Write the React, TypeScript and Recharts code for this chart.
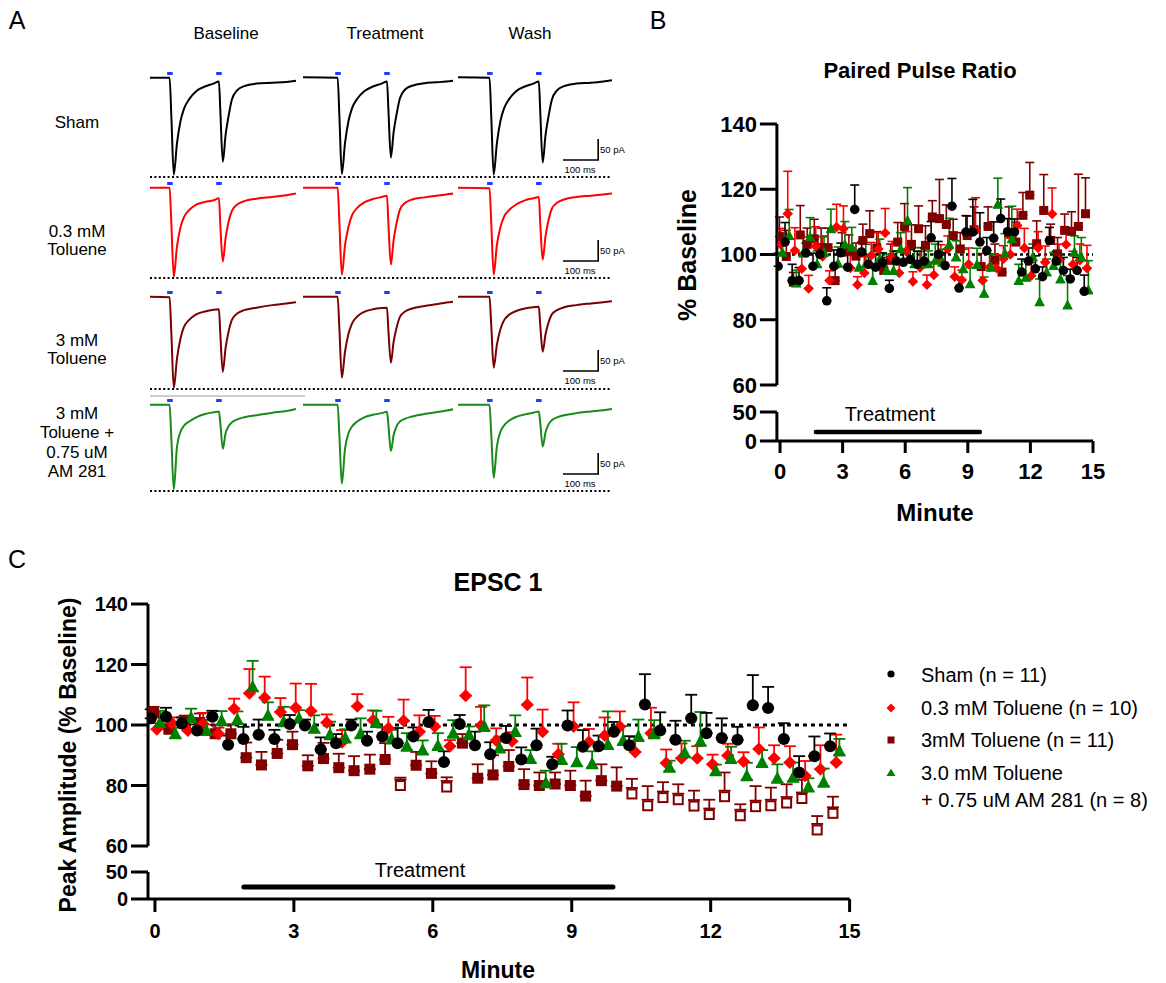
import React from 'react';
import { ScatterChart, Scatter, XAxis, YAxis, ErrorBar, ReferenceLine, LineChart, Line } from 'recharts';

// ---------------- DATA ----------------
// sampling times (min) of the 45 sweeps; each group was acquired with a small time offset
const MINUTES = [0, 0.33, 0.67, 1, 1.33, 1.67, 2, 2.33, 2.67, 3, 3.33, 3.67, 4, 4.33, 4.67, 5, 5.33, 5.67, 6, 6.33, 6.67, 7, 7.33, 7.67, 8, 8.33, 8.67, 9, 9.33, 9.67, 10, 10.33, 10.67, 11, 11.33, 11.67, 12, 12.33, 12.67, 13, 13.33, 13.67, 14, 14.33, 14.67];
const OFFSET_SHAM = -0.09;
const OFFSET_TOL03 = 0.04;
const OFFSET_TOL3 = -0.03;
const OFFSET_AM = 0.11;

// Panel C - EPSC 1 (% baseline) and SEM
const epscSham = [102.2, 102.7, 100.5, 98.2, 102.7, 93.5, 95.4, 96.8, 95.4, 100.3, 99.8, 91.9, 94, 99.8, 94.8, 96.2, 94, 96.2, 101, 87.8, 100.3, 93.3, 90.3, 95.7, 88.6, 93.3, 87, 99.8, 92.8, 93, 97.8, 93.3, 106.8, 98.2, 95.1, 102.2, 97.3, 95.7, 95.1, 106.5, 105.6, 95.4, 84.3, 89.7, 93];
const epscShamSem = [3, 3, 2, 2, 2, 3, 4, 5, 3, 3, 2, 4, 3, 2, 3, 3, 5, 3, 4, 3.5, 3, 4.5, 4, 4, 4, 5.5, 2.5, 5, 5.5, 3.5, 3.2, 3, 10, 6, 6.3, 7.8, 6.7, 6.5, 4.3, 10, 7, 5.2, 5.4, 6.5, 4.2];
const epscTol03 = [98.6, 100.5, 98.2, 100.3, 97.1, 105.4, 110.5, 109, 104.3, 105.7, 104.6, 100.8, 94.3, 106.2, 101.6, 98.9, 101.4, 97.8, 99.5, 93, 109.7, 99.8, 94.9, 94.6, 106.7, 97.8, 90.3, 99.5, 94.4, 96.5, 99.5, 91.1, 97.3, 87.4, 89, 89, 87, 89.9, 87.9, 92.1, 89, 87.6, 83.2, 85.4, 87.6];
const epscTol03Sem = [2, 2, 3, 3.7, 2, 3.3, 8, 7, 4.6, 8, 9, 2.7, 4, 4, 3.2, 3.8, 7, 5.4, 3.5, 2, 9.4, 6.2, 4, 3, 9, 7.3, 3.5, 8, 4.3, 6, 5, 4.9, 8.4, 4.5, 4.9, 4, 3.2, 3.9, 3.1, 7.1, 4.3, 5.4, 4.9, 7.9, 9.2];
const epscTol3 = [104, 98.6, 101.1, 100.8, 97.1, 97.1, 89.2, 86.8, 90.6, 93.5, 86.5, 88.9, 85.9, 84.9, 85.4, 88.6, 80, 86.7, 84, 79.5, 94, 82.4, 83.5, 86.3, 80.3, 80, 80.5, 80, 76.5, 81.6, 79.8, 77.2, 73.3, 76, 75.3, 73.2, 70.4, 76.3, 70, 73, 73.3, 74.2, 75.7, 65.3, 70.8];
const epscTol3Sem = [2, 3, 2, 3, 3, 3, 5, 4.3, 4.5, 4.3, 3.5, 5.2, 4.6, 4.8, 4.8, 5.4, 2.6, 4.4, 4, 3.2, 3, 4.6, 6.5, 5.4, 5.1, 4.3, 3.8, 4.9, 5.1, 5.4, 6.2, 5, 6.5, 5.1, 5.1, 5.1, 4.9, 8, 3.8, 6.8, 6, 6.2, 6.2, 4.6, 5.5];
const epscTol3OpenIdx = [16, 19, 31, 32, 33, 34, 35, 36, 37, 38, 39, 40, 41, 42, 43, 44];
const epscAm = [100.8, 97.1, 102.5, 98.2, 101.4, 101.8, 112.6, 103.2, 101.1, 102.2, 98.9, 96.8, 95.7, 97.1, 100.8, 95.4, 93, 91.7, 93.2, 97.3, 96.8, 99.5, 92.4, 97.8, 88.9, 80.9, 88.6, 87.8, 87.2, 93.5, 94.9, 96.2, 97.1, 86, 90.8, 94.6, 84.9, 88.9, 83.2, 87.6, 82.4, 82.7, 79.5, 81.1, 91.4];
const epscAmSem = [3.9, 2, 2.9, 3.5, 3.2, 2.7, 8.6, 4.3, 4.9, 2.7, 4.3, 4.3, 2.9, 5.1, 3.9, 3, 4.3, 3.2, 4.1, 4.3, 2.7, 7, 3.8, 5.4, 2.8, 4, 5.2, 4.9, 4.1, 11, 4.8, 5.6, 4.5, 2.2, 4, 9.7, 2, 3.9, 4.3, 4.1, 4.6, 4.9, 2.9, 4.5, 4];

// Panel B - paired pulse ratio (% baseline) and SEM
const pprSham = [96.4, 103.8, 92, 92, 100.5, 96.4, 100, 85.8, 96.4, 100.5, 96.1, 113.8, 100.8, 97, 96.1, 97.5, 89.6, 98, 97.6, 98.5, 97, 98, 105.1, 100, 96.6, 114.8, 89.7, 106.9, 106.9, 103.8, 101.2, 105, 111, 107, 106.9, 94.6, 98, 95.6, 93.2, 104.3, 98, 95.1, 92.5, 95.1, 88.7];
const pprShamSem = [4, 6, 5, 4, 3, 4, 3, 4, 5, 3, 5, 7.5, 3, 3, 4, 3, 2.5, 3, 4, 3, 4, 4, 5, 4, 4, 8.5, 3, 5, 10, 9, 4, 5, 6, 4, 4, 4, 4, 4, 3, 4, 3, 4, 3, 4, 5];
const pprTol03 = [103, 112.5, 101.2, 95.6, 89.6, 102.5, 99.4, 92, 108.4, 107.9, 95.9, 90.7, 94.3, 99.7, 101.7, 106.6, 99, 94.3, 101, 91.7, 96, 90.7, 93.7, 98, 101.7, 93.2, 92.2, 97, 107.4, 92, 96.1, 95.9, 98.7, 100, 108.9, 102, 93.5, 102, 97.6, 112.4, 98.2, 103.1, 97, 98.2, 95.8];
const pprTol03Sem = [5, 13, 7, 5, 4, 6, 6, 3, 7, 7, 5, 2.5, 5, 4, 5, 7.5, 5, 4, 6, 3, 5, 3, 4, 5, 4, 3, 3, 5, 10, 4, 4, 4, 4, 5, 5, 6, 4, 5, 5, 8, 5, 4, 4, 5, 7];
const pprTol3 = [105.5, 99.4, 91.5, 106, 103.1, 104.8, 102.1, 102.1, 92, 100.7, 101, 99.5, 104.3, 106.4, 102, 95.1, 98.2, 103.8, 108.6, 103.1, 107.9, 102.8, 111.5, 111, 109.2, 105.8, 101.7, 105.8, 107.6, 96.3, 108.6, 98.2, 94.6, 106.6, 103.8, 112, 118.2, 103.3, 113.5, 104.3, 100.2, 107.4, 107.1, 108.6, 112.5];
const pprTol3Sem = [6, 8, 3, 9, 5, 6, 6, 6, 4, 6, 5, 4, 5, 7, 5, 4, 5, 6, 7, 6, 7, 6, 5, 12, 6, 5, 5, 6, 7, 4, 6, 5, 5, 8, 6, 7, 10, 7, 11, 5, 5, 5, 6, 16, 11];
const pprAm = [100.7, 105.8, 91.2, 100.4, 105.3, 97.1, 100.7, 107.9, 97.3, 103.1, 102.3, 96.1, 97.1, 92, 98.7, 95.1, 95.1, 101.7, 110.5, 97.1, 97.1, 97.1, 98.2, 97.6, 103.1, 99.2, 95.6, 91, 96.9, 88.1, 96.1, 115.4, 100.4, 104.8, 92, 93, 99.2, 85.5, 94.6, 96.6, 92.5, 84.5, 100.7, 99.2, 89.1];
const pprAmSem = [4, 8, 4, 5, 6, 4, 5, 6, 5, 7, 6, 5, 6, 5, 6, 5, 6, 5, 10, 5, 5, 4, 5, 4, 8, 5, 6, 5, 5, 5, 4, 8, 6, 10, 5, 5, 4, 7, 4, 4, 6, 9, 5, 6, 9];

// Treatment period (min) and bar level (axis units) in each panel
const TREAT_B = [1.72, 9.58];
const TREAT_B_LEVEL = 15.5;
const TREAT_C = [1.92, 9.89];
const TREAT_C_LEVEL = 22;

const LEGEND_LABELS = ['Sham (n = 11)', '0.3 mM Toluene (n = 10)', '3mM Toluene (n = 11)', '3.0 mM Toluene', '+ 0.75 uM AM 281 (n = 8)'];

// Panel A - example EPSC traces (ms from sweep start, pA)
const T_BASELINE = [0, 56, 61, 68, 77, 87, 97, 112, 132, 157, 182, 197, 201, 208, 216, 224, 234, 249, 269, 304, 350, 390, 417];
const T_TREATMENT = [0, 99, 104, 111, 120, 130, 140, 155, 175, 200, 225, 240, 244, 251, 259, 267, 277, 292, 312, 347, 380, 410, 429];
const T_WASH = [0, 90, 95, 102, 111, 121, 131, 146, 166, 191, 216, 231, 235, 242, 250, 258, 268, 283, 303, 338, 380, 415, 440];
const STIM_BASELINE = [57, 197];
const STIM_TREATMENT = [100, 240];
const STIM_WASH = [91, 231];

const shamBaseline = [0, 0, -92, -231, -157, -104, -74, -51, -32, -21, -14, -9, -80, -200, -136, -94, -52, -30, -20, -14, -12, -10, -7];
const shamTreatment = [1, 0, -92, -229, -156, -103, -73, -50, -32, -21, -14, -9, -76, -190, -129, -89, -49, -28, -19, -13, -11, -9, -7];
const shamWash = [1, 0, -92, -231, -157, -104, -74, -51, -32, -21, -14, -9, -81, -202, -137, -95, -53, -30, -20, -14, -12, -9, -6];
const tol03Baseline = [0, 0, -85, -212, -140, -95, -70, -53, -40, -34, -30, -25, -90, -176, -120, -83, -55, -40, -32, -26, -22, -18, -14];
const tol03Treatment = [0, 0, -83, -207, -137, -93, -66, -48, -35, -27, -22, -19, -85, -183, -124, -86, -52, -36, -28, -23, -19, -16, -14];
const tol03Wash = [0, -1, -83, -207, -137, -95, -70, -53, -40, -30, -25, -22, -85, -171, -116, -80, -50, -36, -28, -22, -19, -16, -14];
const tol3Baseline = [0, -1, -87, -217, -148, -100, -72, -55, -42, -35, -31, -30, -90, -179, -122, -85, -55, -40, -32, -26, -20, -16, -13];
const tol3Treatment = [0, 0, -77, -193, -131, -88, -64, -47, -36, -30, -27, -26, -80, -157, -107, -75, -48, -35, -28, -22, -18, -14, -12];
const tol3Wash = [0, 0, -68, -169, -115, -78, -57, -43, -34, -28, -25, -24, -68, -131, -90, -63, -42, -32, -25, -20, -16, -13, -11];
const amBaseline = [0, 0, -81, -202, -101, -65, -50, -40, -30, -22, -18, -16, -45, -105, -68, -52, -42, -35, -30, -25, -19, -15, -10];
const amTreatment = [0, 0, -75, -188, -105, -68, -52, -40, -30, -24, -20, -17, -48, -110, -72, -52, -40, -33, -28, -22, -18, -14, -11];
const amWash = [0, 0, -70, -174, -100, -65, -50, -38, -29, -23, -19, -16, -44, -100, -66, -48, -37, -30, -25, -20, -16, -13, -10];

const COLUMN_TITLES = ['Baseline', 'Treatment', 'Wash'];

// ---------------- STYLE ----------------
const FONT = "'Liberation Sans', Arial, Helvetica, sans-serif";
const BLACK = '#000000';
const RED = '#ff0000';
const DARKRED = '#800000';
const GREEN = '#008000';
const TRACE_COLORS = ['#000000', '#ff0000', '#7a0000', '#1a8a1a'];
const STIM_BLUE = '#1f3cff';

const PX_PER_MS = 0.35;
const PX_PER_PA = 0.42;
const TRACE_TOP = 16;
const TRACE_BOTTOM = -250;

type Kind = 'circle' | 'diamond' | 'square' | 'triangle';

function marker(kind: Kind, color: string, s: number) {
  return (p: any) => {
    const cx = p.cx;
    const cy = p.cy;
    if (cx == null || cy == null) return <g />;
    const open = p.open ?? (p.payload && p.payload.open);
    if (kind === 'circle') return <circle cx={cx} cy={cy} r={s / 2} fill={color} />;
    if (kind === 'square') {
      if (open) return <rect x={cx - s / 2 + 1} y={cy - s / 2 + 1} width={s - 2} height={s - 2} fill="#ffffff" stroke={color} strokeWidth={2} />;
      return <rect x={cx - s / 2} y={cy - s / 2} width={s} height={s} fill={color} />;
    }
    if (kind === 'diamond') {
      const h = s / 2;
      return <path d={`M${cx},${cy - h}L${cx + h},${cy}L${cx},${cy + h}L${cx - h},${cy}Z`} fill={color} />;
    }
    const top = cy - s * 0.55;
    const bot = cy + s * 0.42;
    return <path d={`M${cx},${top}L${cx + s / 2},${bot}L${cx - s / 2},${bot}Z`} fill={color} />;
  };
}

function buildSeries(values: number[], sems: number[], offset: number, inset: number, openIdx: number[] = [], openInset = 0) {
  return values.map((v, i) => {
    const open = openIdx.includes(i);
    return { x: +(MINUTES[i] + offset).toFixed(3), y: v, open, err: [open ? openInset : inset, sems[i]] };
  });
}

const cSham = buildSeries(epscSham, epscShamSem, OFFSET_SHAM, 0);
const cTol03 = buildSeries(epscTol03, epscTol03Sem, OFFSET_TOL03, 0);
const cTol3 = buildSeries(epscTol3, epscTol3Sem, OFFSET_TOL3, 0, epscTol3OpenIdx, -2);
const cAm = buildSeries(epscAm, epscAmSem, OFFSET_AM, 1.3);

const bSham = buildSeries(pprSham, pprShamSem, OFFSET_SHAM, 0);
const bTol03 = buildSeries(pprTol03, pprTol03Sem, OFFSET_TOL03, 0);
const bTol3 = buildSeries(pprTol3, pprTol3Sem, OFFSET_TOL3, 0);
const bAm = buildSeries(pprAm, pprAmSem, OFFSET_AM, 0.95);

const axisStyle = { stroke: BLACK, strokeWidth: 3 };

function Trace({ left, baseline, times, values, color, stims }: any) {
  const data = times.map((t: number, i: number) => ({ t, v: values[i] }));
  const dur = times[times.length - 1];
  return (
    <div style={{ position: 'absolute', left, top: baseline - TRACE_TOP * PX_PER_PA }}>
      <LineChart width={dur * PX_PER_MS} height={(TRACE_TOP - TRACE_BOTTOM) * PX_PER_PA} data={data} margin={{ top: 0, right: 0, bottom: 0, left: 0 }}>
        <XAxis type="number" dataKey="t" domain={[0, dur]} hide />
        <YAxis type="number" domain={[TRACE_BOTTOM, TRACE_TOP]} hide allowDataOverflow />
        {stims.map((s: number) => (
          <ReferenceLine key={s} segment={[{ x: s - 8, y: 10 }, { x: s + 8, y: 10 }]} stroke={STIM_BLUE} strokeWidth={3} />
        ))}
        <Line dataKey="v" stroke={color} strokeWidth={2} dot={false} type="monotone" isAnimationActive={false} />
      </LineChart>
    </div>
  );
}

const TRACE_ROWS = [
  { baseline: 78, values: [shamBaseline, shamTreatment, shamWash] },
  { baseline: 188, values: [tol03Baseline, tol03Treatment, tol03Wash] },
  { baseline: 297, values: [tol3Baseline, tol3Treatment, tol3Wash] },
  { baseline: 405, values: [amBaseline, amTreatment, amWash] },
];
const TRACE_COLS = [
  { left: 150, times: T_BASELINE, stims: STIM_BASELINE },
  { left: 303, times: T_TREATMENT, stims: STIM_TREATMENT },
  { left: 458, times: T_WASH, stims: STIM_WASH },
];
const DOTTED_Y = [177, 278, 389, 491];
const SCALEBAR_Y = [160, 261, 371, 474];

function ScatterSet({ sham, tol03, tol3, am, big }: any) {
  const cap = big ? 6 : 4.5;
  const sw = big ? 1.8 : 1.6;
  const sz = big ? { c: 12, d: 13, s: 11, t: 13 } : { c: 9.5, d: 10.5, s: 9, t: 10.5 };
  return [
    <Scatter key="tol3" data={tol3} shape={marker('square', DARKRED, sz.s)} isAnimationActive={false}>
      <ErrorBar dataKey="err" direction="y" width={cap} strokeWidth={sw} stroke={DARKRED} isAnimationActive={false} />
    </Scatter>,
    <Scatter key="tol03" data={tol03} shape={marker('diamond', RED, sz.d)} isAnimationActive={false}>
      <ErrorBar dataKey="err" direction="y" width={cap} strokeWidth={sw} stroke={RED} isAnimationActive={false} />
    </Scatter>,
    <Scatter key="am" data={am} shape={marker('triangle', GREEN, sz.t)} isAnimationActive={false}>
      <ErrorBar dataKey="err" direction="y" width={cap} strokeWidth={sw} stroke={GREEN} isAnimationActive={false} />
    </Scatter>,
    <Scatter key="sham" data={sham} shape={marker('circle', BLACK, sz.c)} isAnimationActive={false}>
      <ErrorBar dataKey="err" direction="y" width={cap} strokeWidth={sw} stroke={BLACK} isAnimationActive={false} />
    </Scatter>,
  ];
}

export default function App() {
  const tickC = { fill: BLACK, fontSize: 20, fontWeight: 700, fontFamily: FONT };
  const tickB = { fill: BLACK, fontSize: 22, fontWeight: 700, fontFamily: FONT };
  return (
    <div style={{ position: 'absolute', left: 0, top: 0, width: 1166, height: 983, background: '#ffffff', fontFamily: FONT, overflow: 'hidden' }}>
      {/* Panel A traces */}
      {TRACE_ROWS.map((row, ri) =>
        TRACE_COLS.map((col, ci) => (
          <Trace key={`${ri}-${ci}`} left={col.left} baseline={row.baseline} times={col.times} values={row.values[ci]} color={TRACE_COLORS[ri]} stims={col.stims} />
        ))
      )}

      {/* Panel B lower */}
      <div style={{ position: 'absolute', left: 620, top: 392 }}>
        <ScatterChart width={500} height={124} margin={{ top: 20, right: 27, bottom: 0, left: 0 }}>
          <XAxis type="number" dataKey="x" domain={[-0.15, 15]} ticks={[0, 3, 6, 9, 12, 15]} interval={0} height={75} axisLine={axisStyle} tickLine={axisStyle} tickSize={12} tickMargin={10} tick={tickB} allowDataOverflow />
          <YAxis type="number" dataKey="y" domain={[0, 50]} ticks={[0, 50]} interval={0} width={156.9} axisLine={axisStyle} tickLine={axisStyle} tickSize={17} tickMargin={3} tick={tickB} allowDataOverflow />
          <ReferenceLine segment={[{ x: TREAT_B[0], y: TREAT_B_LEVEL }, { x: TREAT_B[1], y: TREAT_B_LEVEL }]} stroke={BLACK} strokeWidth={4.5} strokeLinecap="round" />
        </ScatterChart>
      </div>
      {/* Panel B upper */}
      <div style={{ position: 'absolute', left: 620, top: 110 }}>
        <ScatterChart width={500} height={299} margin={{ top: 14, right: 27, bottom: 24, left: 0 }}>
          <XAxis type="number" dataKey="x" domain={[-0.15, 15]} hide allowDataOverflow />
          <YAxis type="number" dataKey="y" domain={[60, 140]} ticks={[60, 80, 100, 120, 140]} interval={0} width={156.9} axisLine={axisStyle} tickLine={axisStyle} tickSize={17} tickMargin={3} tick={tickB} allowDataOverflow />
          <ReferenceLine segment={[{ x: 0, y: 100 }, { x: 15, y: 100 }]} stroke={BLACK} strokeWidth={2.5} strokeDasharray="3 3" />
          {ScatterSet({ sham: bSham, tol03: bTol03, tol3: bTol3, am: bAm, big: false })}
        </ScatterChart>
      </div>

      {/* Panel C lower */}
      <div style={{ position: 'absolute', left: 0, top: 852 }}>
        <ScatterChart width={880} height={130} margin={{ top: 20, right: 30.4, bottom: 0, left: 0 }}>
          <XAxis type="number" dataKey="x" domain={[-0.15, 15]} ticks={[0, 3, 6, 9, 12, 15]} interval={0} height={83} axisLine={axisStyle} tickLine={axisStyle} tickSize={13} tickMargin={12} tick={tickC} allowDataOverflow />
          <YAxis type="number" dataKey="y" domain={[0, 50]} ticks={[0, 50]} interval={0} width={148} axisLine={axisStyle} tickLine={axisStyle} tickSize={17} tickMargin={3} tick={tickC} allowDataOverflow />
          <ReferenceLine segment={[{ x: TREAT_C[0], y: TREAT_C_LEVEL }, { x: TREAT_C[1], y: TREAT_C_LEVEL }]} stroke={BLACK} strokeWidth={5} strokeLinecap="round" />
        </ScatterChart>
      </div>
      {/* Panel C upper */}
      <div style={{ position: 'absolute', left: 0, top: 590 }}>
        <ScatterChart width={880} height={280} margin={{ top: 14, right: 30.4, bottom: 24, left: 0 }}>
          <XAxis type="number" dataKey="x" domain={[-0.15, 15]} hide allowDataOverflow />
          <YAxis type="number" dataKey="y" domain={[60, 140]} ticks={[60, 80, 100, 120, 140]} interval={0} width={148} axisLine={axisStyle} tickLine={axisStyle} tickSize={17} tickMargin={3} tick={tickC} allowDataOverflow />
          <ReferenceLine segment={[{ x: 0, y: 100 }, { x: 15, y: 100 }]} stroke={BLACK} strokeWidth={3} strokeDasharray="4 4" />
          {ScatterSet({ sham: cSham, tol03: cTol03, tol3: cTol3, am: cAm, big: true })}
        </ScatterChart>
      </div>

      {/* Text and annotations */}
      <svg width={1166} height={983} style={{ position: 'absolute', left: 0, top: 0, pointerEvents: 'none' }} fontFamily={FONT}>
        <text x={17} y={29} fontSize={25} textAnchor="middle">A</text>
        <text x={658} y={29} fontSize={25} textAnchor="middle">B</text>
        <text x={17} y={568} fontSize={25} textAnchor="middle">C</text>

        {COLUMN_TITLES.map((t, i) => (
          <text key={t} x={[226, 385, 530][i]} y={39} fontSize={17} textAnchor="middle">{t}</text>
        ))}
        <text x={77} y={128} fontSize={17} textAnchor="middle">Sham</text>
        <text x={77} y={237} fontSize={17} textAnchor="middle">0.3 mM</text>
        <text x={77} y={255} fontSize={17} textAnchor="middle">Toluene</text>
        <text x={77} y={346} fontSize={17} textAnchor="middle">3 mM</text>
        <text x={77} y={364} fontSize={17} textAnchor="middle">Toluene</text>
        <text x={77} y={419} fontSize={17} textAnchor="middle">3 mM</text>
        <text x={77} y={438} fontSize={17} textAnchor="middle">Toluene +</text>
        <text x={77} y={458} fontSize={17} textAnchor="middle">0.75 uM</text>
        <text x={77} y={477} fontSize={17} textAnchor="middle">AM 281</text>

        <line x1={150} y1={396} x2={305} y2={396} stroke="#9a9a9a" strokeWidth={1} />
        {DOTTED_Y.map((y) => (
          <line key={y} x1={150} y1={y} x2={612} y2={y} stroke={BLACK} strokeWidth={2} strokeDasharray="2 2.4" />
        ))}
        {SCALEBAR_Y.map((y) => (
          <g key={y}>
            <line x1={563} y1={y} x2={599} y2={y} stroke={BLACK} strokeWidth={1.6} />
            <line x1={598.2} y1={y} x2={598.2} y2={y - 21} stroke={BLACK} strokeWidth={1.6} />
            <text x={600} y={y - 7} fontSize={9.5}>50 pA</text>
            <text x={580} y={y + 13} fontSize={9.5} textAnchor="middle">100 ms</text>
          </g>
        ))}

        {/* Panel B titles */}
        <text x={920} y={78} fontSize={22} fontWeight={700} textAnchor="middle">Paired Pulse Ratio</text>
        <text transform="translate(696,255) rotate(-90)" fontSize={25} fontWeight={700} textAnchor="middle">% Baseline</text>
        <text x={935} y={521} fontSize={24} fontWeight={700} textAnchor="middle">Minute</text>
        <text x={890} y={421} fontSize={20} textAnchor="middle">Treatment</text>

        {/* Panel C titles */}
        <text x={498} y={591} fontSize={25} fontWeight={700} textAnchor="middle">EPSC 1</text>
        <text transform="translate(76,755) rotate(-90)" fontSize={23} fontWeight={700} textAnchor="middle">Peak Amplitude (% Baseline)</text>
        <text x={498} y={978} fontSize={23} fontWeight={700} textAnchor="middle">Minute</text>
        <text x={420} y={877} fontSize={20} textAnchor="middle">Treatment</text>

        {/* Legend */}
        <circle cx={891} cy={674} r={3.6} fill={BLACK} />
        <path d="M891,703.5L895.5,708L891,712.5L886.5,708Z" fill={RED} />
        <rect x={887.5} y={736.5} width={7} height={7} fill={DARKRED} />
        <path d="M891,768.5L895.5,776L886.5,776Z" fill={GREEN} />
        <text x={921} y={682} fontSize={20}>{LEGEND_LABELS[0]}</text>
        <text x={921} y={715} fontSize={20}>{LEGEND_LABELS[1]}</text>
        <text x={921} y={747} fontSize={20}>{LEGEND_LABELS[2]}</text>
        <text x={921} y={780} fontSize={20}>{LEGEND_LABELS[3]}</text>
        <text x={921} y={807} fontSize={20}>{LEGEND_LABELS[4]}</text>
      </svg>
    </div>
  );
}
